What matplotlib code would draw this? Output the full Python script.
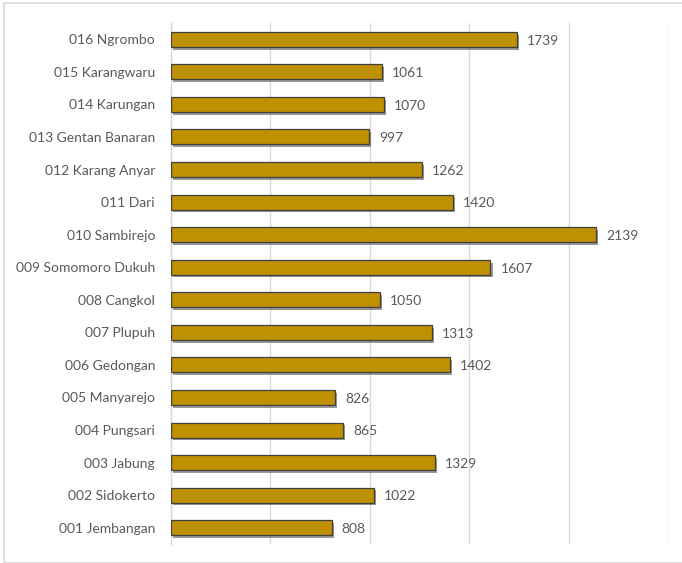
import matplotlib
matplotlib.use("Agg")
import matplotlib.pyplot as plt
import matplotlib.patheffects as pe
from matplotlib.patches import Rectangle

categories = ["001 Jembangan", "002 Sidokerto", "003 Jabung", "004 Pungsari",
              "005 Manyarejo", "006 Gedongan", "007 Plupuh", "008 Cangkol",
              "009 Somomoro Dukuh", "010 Sambirejo", "011 Dari", "012 Karang Anyar",
              "013 Gentan Banaran", "014 Karungan", "015 Karangwaru", "016 Ngrombo"]
values = [808, 1022, 1329, 865, 826, 1402, 1313, 1050, 1607, 2139, 1420, 1262,
          997, 1070, 1061, 1739]

plt.rcParams['font.family'] = ['Lato', 'DejaVu Sans']

fig = plt.figure(figsize=(6.82, 5.63), dpi=100)
fig.patches.append(Rectangle((4/682, 0), 1, 1 - 3/563, transform=fig.transFigure,
                             fill=False, edgecolor='#d9d9d9', linewidth=1.2))
ax = fig.add_axes([171/682, 1 - 544/563, (668 - 171)/682, (544 - 23)/563])

y = list(range(len(categories)))
bars = ax.barh(y, values, height=0.46, color='#BF9000', edgecolor='#404040',
               linewidth=0.9, zorder=3)
for b in bars:
    b.set_path_effects([pe.SimplePatchShadow(offset=(1.5, -2), shadow_rgbFace='#555555', alpha=0.6),
                        pe.Normal()])
for yi, v in zip(y, values):
    ax.text(v + 50, yi - 0.04, str(v), va='center', ha='left', fontsize=10, color='#595959')

ax.set_xlim(0, 2500)
ax.set_ylim(-0.5, len(categories) - 0.5)
ax.set_xticks([0, 500, 1000, 1500, 2000, 2500])
ax.set_xticklabels([])
ax.tick_params(axis='x', length=0)
ax.tick_params(axis='y', length=0, pad=11.5, labelsize=10, labelcolor='#595959')
ax.set_yticks(y)
ax.set_yticklabels(categories)
ax.grid(axis='x', color='#d9d9d9', linewidth=1, zorder=0)
for s in ['top', 'right', 'bottom']:
    ax.spines[s].set_visible(False)
ax.spines['left'].set_color('#d9d9d9')
ax.spines['left'].set_linewidth(1)

fig.savefig('out.png', dpi=100)
